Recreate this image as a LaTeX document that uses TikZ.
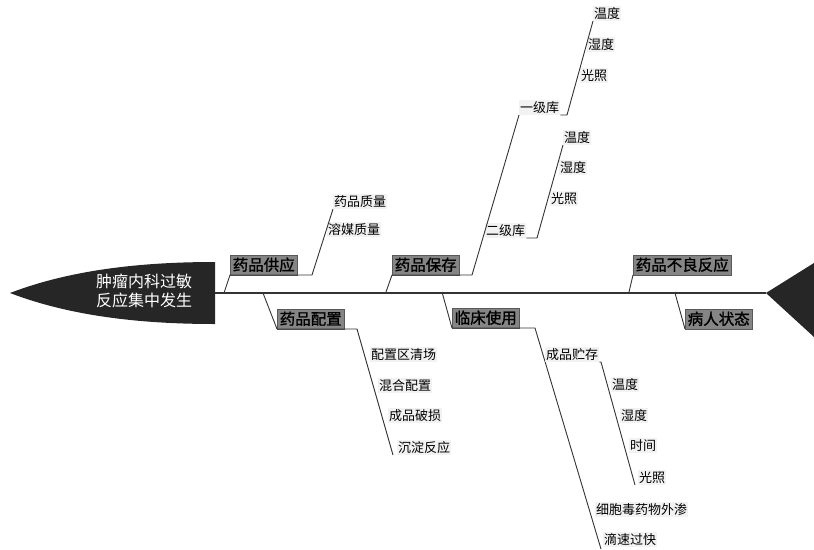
\documentclass[tikz,border=0pt]{standalone}
\usepackage{fontspec}
\newfontfamily\cjk{Noto Sans CJK SC}
\newfontfamily\cjkb[FakeBold=1.2]{Noto Sans CJK SC}
\begin{document}
\begin{tikzpicture}[x=1pt,y=-1pt,
  ln/.style={draw=black!80, line width=0.9pt},
  cat/.style={fill=black!48, draw=black!65, line width=0.5pt, font=\cjkb\fontsize{15.5}{16}\selectfont, inner xsep=2.5pt, inner ysep=0pt, minimum height=20pt, anchor=south west, text=black},
  sub/.style={fill=black!5, font=\cjk\fontsize{13}{14}\selectfont, inner xsep=1pt, inner ysep=0pt, minimum height=15pt, anchor=south west, text=black},
  headtxt/.style={font=\cjk\fontsize{16}{19}\selectfont, text=white, align=center, inner sep=0pt}
]
\useasboundingbox (0,0) rectangle (814,549);
% head and tail
\fill[black!85] (10,293) .. controls (70,270) and (140,262) .. (215,262) -- (215,324) .. controls (140,324) and (70,316) .. (10,293) -- cycle;
\node[headtxt] (head) at (144,291) {肿瘤内科过敏\\反应集中发生};
\coordinate (hr) at (215,293);
\coordinate (ta) at (766,293);
\fill[black!85] (ta) -- (814,263) -- (814,337) -- cycle;
\draw[ln, line width=1.2pt] (hr) -- (ta);

% 药品供应
\coordinate (p1) at (224,293);
\node[cat] (c1) at (230,275) {药品供应};
\coordinate (c1e) at (312,275);
\node[sub] (s11) at (333,209) {药品质量};
\node[sub] (s12) at (327,237) {溶媒质量};
\draw[ln] (p1) -- (c1.south west) -- (c1e) -- (s11.south west);

% 药品保存
\coordinate (p2) at (386,292);
\node[cat] (c2) at (392,275) {药品保存};
\coordinate (c2e) at (472,275);
\node[sub] (s21) at (519,115) {一级库};
\node[sub] (s22) at (485,238) {二级库};
\draw[ln] (p2) -- (c2.south west) -- (c2e) -- (s21.south west);
\node[sub] (t11) at (593,21) {温度};
\node[sub] (t12) at (587,52) {湿度};
\node[sub] (t13) at (580,83) {光照};
\coordinate (b21) at (567,115);
\draw[ln] (s21.south east) -- (b21) -- (t11.south west);
\node[sub] (t21) at (563,145) {温度};
\node[sub] (t22) at (559,175) {湿度};
\node[sub] (t23) at (550,206) {光照};
\coordinate (b22) at (537,238);
\draw[ln] (s22.south east) -- (b22) -- (t21.south west);

% 药品配置
\coordinate (p3) at (263,293);
\node[cat] (c3) at (277,329) {药品配置};
\coordinate (c3e) at (357,329);
\coordinate (c3f) at (393,455);
\draw[ln] (p3) -- (c3.south west) -- (c3e) -- (c3f);
\node[sub] (s31) at (370,362) {配置区清场};
\node[sub] (s32) at (378,393) {混合配置};
\node[sub] (s33) at (388,423) {成品破损};
\node[sub] (s34) at (397,455) {沉淀反应};

% 临床使用
\coordinate (p4) at (442,292);
\node[cat] (c4) at (452,328) {临床使用};
\coordinate (c4e) at (535,328);
\coordinate (c4f) at (601,549);
\draw[ln] (p4) -- (c4.south west) -- (c4e) -- (c4f);
\node[sub] (s41) at (545,362) {成品贮存};
\node[sub] (s42) at (595,517) {细胞毒药物外渗};
\node[sub] (s43) at (603,547) {滴速过快};
\coordinate (b41) at (601,362);
\coordinate (b41f) at (635,485);
\draw[ln] (s41.south east) -- (b41) -- (b41f);
\node[sub] (t41) at (611,392) {温度};
\node[sub] (t42) at (620,423) {湿度};
\node[sub] (t43) at (629,453) {时间};
\node[sub] (t44) at (638,485) {光照};

% 药品不良反应
\coordinate (p5) at (629,292);
\node[cat] (c5) at (633,275) {药品不良反应};
\draw[ln] (p5) -- (c5.south west);

% 病人状态
\coordinate (p6) at (675,293);
\node[cat] (c6) at (685,329) {病人状态};
\draw[ln] (p6) -- (c6.south west);
\end{tikzpicture}
\end{document}
